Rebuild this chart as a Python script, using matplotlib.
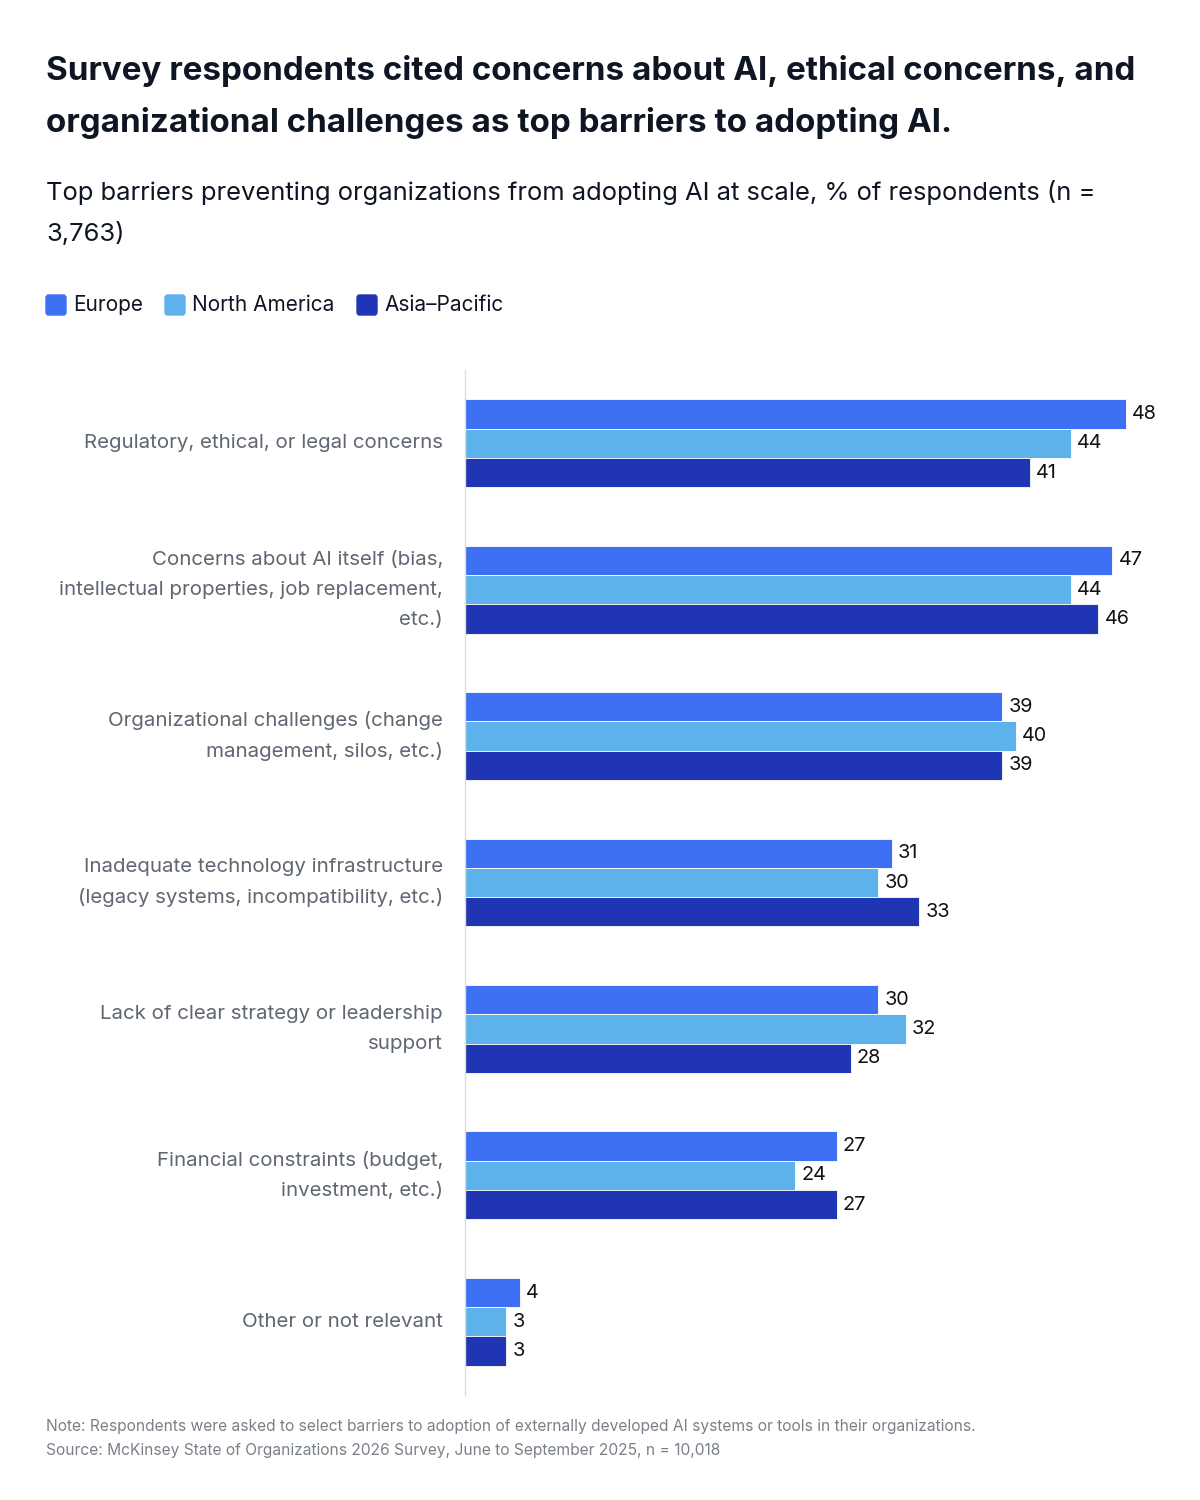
import numpy as np
import matplotlib.pyplot as plt
from matplotlib.patches import FancyBboxPatch

plt.rcParams['font.family'] = ['Inter', 'DejaVu Sans']

# data
categories = [
    "Regulatory, ethical, or legal concerns",
    "Concerns about AI itself (bias,\nintellectual properties, job replacement,\netc.)",
    "Organizational challenges (change\nmanagement, silos, etc.)",
    "Inadequate technology infrastructure\n(legacy systems, incompatibility, etc.)",
    "Lack of clear strategy or leadership\nsupport",
    "Financial constraints (budget,\ninvestment, etc.)",
    "Other or not relevant",
]
europe = [48, 47, 39, 31, 30, 27, 4]
north_america = [44, 44, 40, 30, 32, 24, 3]
asia_pacific = [41, 46, 39, 33, 28, 27, 3]

series_names = ["Europe", "North America", "Asia\u2013Pacific"]
series_vals = [europe, north_america, asia_pacific]
colors = ["#3d70f2", "#5db2ec", "#1f35b3"]

W, H = 1200, 1500
fig = plt.figure(figsize=(12, 15), dpi=100)

# axes: left edge at x=465, top y=370, bottom y=1395
ax = fig.add_axes([465 / W, 1 - 1395 / H, 690 / W, 1025 / H])
y = np.arange(len(categories))
bh = 0.2
for i, (vals, c) in enumerate(zip(series_vals, colors)):
    pos = y + (i - 1) * bh
    ax.barh(pos, vals, height=bh, color=c, edgecolor='white', linewidth=0.6)
    for p, v in zip(pos, vals):
        ax.text(v + 0.45, p, str(v), va='center', ha='left', fontsize=14.3, color='#111111')

ax.set_ylim(len(categories) - 0.5, -0.5)
ax.set_xlim(0, 690 / 13.77)
ax.set_xticks([])
ax.set_yticks([])
for s in ['top', 'right', 'bottom']:
    ax.spines[s].set_visible(False)
ax.spines['left'].set_color('#dddddd')
ax.spines['left'].set_linewidth(1)

for yi, lab in zip(y, categories):
    ax.text(-22 / 13.77, yi, lab, ha='right', va='center', fontsize=14.75,
            color='#5f6773', linespacing=1.85)

# title and subtitle
fig.text(46 / W, 1 - 97 / H,
         "Survey respondents cited concerns about AI, ethical concerns, and\n"
         "organizational challenges as top barriers to adopting AI.",
         ha='left', va='center', fontsize=23.85, fontweight='bold', color='#0f1623',
         linespacing=1.78)
fig.text(46 / W, 1 - 213 / H,
         "Top barriers preventing organizations from adopting AI at scale, % of respondents (n =\n3,763)",
         ha='left', va='center', fontsize=18.4, color='#0f1623', linespacing=1.85)

# legend
lx = [46, 165, 357]
for x0, name, c in zip(lx, series_names, colors):
    fig.patches.append(FancyBboxPatch((x0 / W, 1 - 315 / H), 20 / W, 20 / H,
                                      boxstyle="round,pad=0,rounding_size=0.002",
                                      transform=fig.transFigure, color=c))
    fig.text((x0 + 27) / W, 1 - 305 / H, name, ha='left', va='center',
             fontsize=15, color='#0f1623')

# footnotes
fig.text(46 / W, 1 - 1426 / H,
         "Note: Respondents were asked to select barriers to adoption of externally developed AI systems or tools in their organizations.",
         ha='left', va='center', fontsize=11.2, color='#7a8089')
fig.text(46 / W, 1 - 1450 / H,
         "Source: McKinsey State of Organizations 2026 Survey, June to September 2025, n = 10,018",
         ha='left', va='center', fontsize=11.2, color='#7a8089')

fig.savefig("out.png", dpi=100, facecolor='white')
